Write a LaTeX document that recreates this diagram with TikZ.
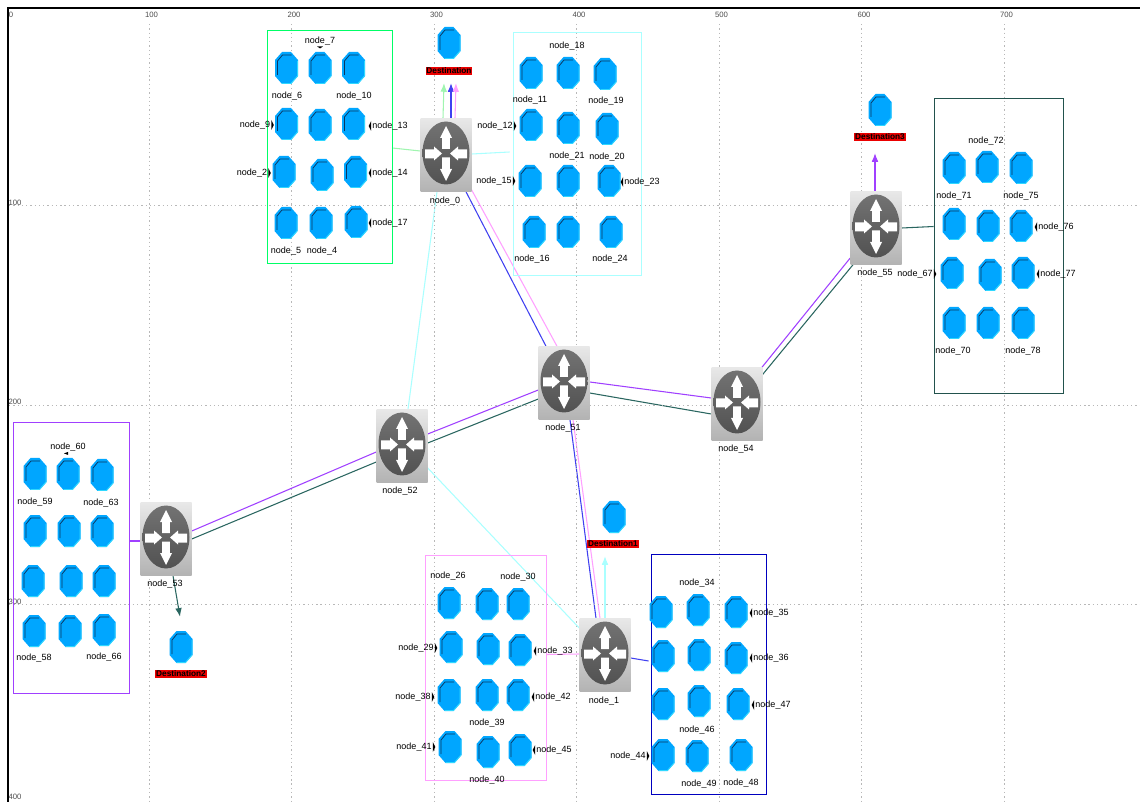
\documentclass[tikz,border=0pt]{standalone}
\usepackage{fontspec}
\setmainfont{Liberation Sans}
\usetikzlibrary{arrows.meta}
\usetikzlibrary{backgrounds}

\definecolor{hostblue}{HTML}{00A6FF}
\definecolor{hostedge}{HTML}{2FD8FF}
\definecolor{hostdark}{HTML}{0B3560}
\definecolor{lkgreen}{HTML}{A0F5B0}
\definecolor{lkcyan}{HTML}{AAFFFF}
\definecolor{lkpink}{HTML}{FFA0FF}
\definecolor{lkblue}{HTML}{4040F0}
\definecolor{lkpurple}{HTML}{A040FF}
\definecolor{lkdark}{HTML}{2A6660}

\tikzset{
    router/.style={rectangle, minimum width=38.25pt, minimum height=54.75pt, inner sep=0pt,
        top color=black!9, bottom color=black!30,
        path picture={
            \begin{scope}[shift={(path picture bounding box.center)}]
                \shade[top color=black!55, bottom color=black!68] (0,-2) ellipse [x radius=23.5, y radius=31.5];
                \fill[white] (0,-29) -- (6,-17) -- (3.8,-17) -- (3.8,-6) -- (-3.8,-6) -- (-3.8,-17) -- (-6,-17) -- cycle;
                \fill[white] (0,26) -- (6,14) -- (3.8,14) -- (3.8,2.5) -- (-3.8,2.5) -- (-3.8,14) -- (-6,14) -- cycle;
                \fill[white] (-4,-1.5) -- (-12,-8.5) -- (-12,-5.5) -- (-21,-5.5) -- (-21,3.5) -- (-12,3.5) -- (-12,5.5) -- cycle;
                \fill[white] (4,-1.5) -- (12,-8.5) -- (12,-5.5) -- (21,-5.5) -- (21,3.5) -- (12,3.5) -- (12,5.5) -- cycle;
            \end{scope}}},
    host/.style={rectangle, minimum width=17.25pt, minimum height=24pt, inner sep=0pt,
        path picture={
            \begin{scope}[shift={(path picture bounding box.center)}]
                \fill[hostblue] (-4.5,-16) -- (4.5,-16) -- (11.5,-8) -- (11.5,8) -- (4.5,16) -- (-4.5,16) -- (-11.5,8) -- (-11.5,-8) -- cycle;
                \draw[hostedge, line width=0.7pt] (11,-7) -- (11,8) -- (4.5,15.5) -- (-4.5,15.5);
                \draw[hostdark, line width=0.55pt] (-9,7) -- (-9,-7) -- (-4,-13) -- (5,-13);
            \end{scope}}},
    hostbox/.style={rectangle, draw=#1, line width=0.65pt, inner sep=0pt},
    lbl/.style={inner sep=0pt, text=black, font=\fontsize{6.75}{8}\selectfont},
    destlbl/.style={inner sep=0.6pt, fill=red!92!black, text=black, font=\bfseries\fontsize{6.2}{7}\selectfont},
    axlbl/.style={inner sep=0pt, text=black!70, font=\fontsize{5.8}{7}\selectfont},
    griddot/.style={black!28, line width=0.6pt, dash pattern=on 1pt off 2.2pt},
    lk/.style={#1, line width=0.8pt},
    lkarrow/.style={#1, line width=0.8pt, -{Latex[length=6.5pt, width=5pt]}},
}

\begin{document}
\begin{tikzpicture}[x=0.75pt, y=-0.75pt]
    \useasboundingbox (0,0) rectangle (1140,802);

    % rahmen und raster
    \foreach \k/\t in {1/100, 2/200, 3/300, 4/400, 5/500, 6/600, 7/700}{
        \draw[griddot] ({6.5+142.5*\k}, 24) -- ({6.5+142.5*\k}, 802);
        \node[axlbl] (axx\t) at ({9+142.5*\k}, 15) {\t};
    };
    \foreach \k/\t in {1/100, 2/200, 3/300}{
        \draw[griddot] (9, {6+199.5*\k}) -- (1140, {6+199.5*\k});
        \node[axlbl] (axy\t) at (15, {3+199.5*\k}) {\t};
    };
    \node[axlbl] (axx0) at (11, 15) {0};
    \node[axlbl] (axy400) at (15, 797) {400};
    \draw[black, line width=1.9pt] (8, 802) -- (8, 8) -- (1140, 8);

    % gruppen
    \node[hostbox=green!60!cyan, minimum width=93.75pt, minimum height=174.75pt] (box_a) at (329.5, 146.5) {};
    \node[hostbox=lkcyan, minimum width=96pt, minimum height=182.25pt] (box_b) at (577, 153.5) {};
    \node[hostbox=lkpurple, minimum width=87pt, minimum height=203.25pt] (box_d) at (71, 557.5) {};
    \node[hostbox=lkpink, minimum width=90.75pt, minimum height=168.75pt] (box_e) at (485.5, 667.5) {};
    \node[hostbox=blue!75!black, minimum width=86.25pt, minimum height=180pt] (box_f) at (708.5, 674) {};
    \node[hostbox=lkdark!80!black, minimum width=96.75pt, minimum height=221.25pt] (box_g) at (998.5, 245.5) {};

    % router
    \foreach \n/\x/\y in {0/446/155, 51/564/383, 52/402/446, 53/166/539, 54/737/404, 55/876/228, 1/605/655}{
        \node[router] (node_\n) at (\x, \y) {};
    };
    \foreach \n/\x/\y in {0/445/201, 51/563/428, 52/400/491, 53/165/584, 54/736/449.5, 55/875/273, 1/604/701}{
        \node[lbl] (lr_\n) at (\x, \y) {node\_\n};
    };

    % hosts
    \foreach \x/\y [count=\i] in {
        286.5/68, 320/68, 353.5/68, 286.5/124, 320/125, 353.5/124,
        284/172, 322/175, 355.5/172, 286/223, 321/223, 356/222,
        531/73, 568/73, 605/74, 531/125, 568/128, 607/129,
        530/181, 568/181, 609/181, 534/232, 568/232, 611/232,
        35/474, 68/474, 102/475, 35/531, 69/531, 102/531,
        33/581, 71/581, 104/581, 34/631, 70/631, 104/630,
        449/603, 487/604, 518/604, 451/647, 488/649, 520/650,
        449/695, 487/695, 518/695, 450/747, 488/752, 520/750,
        661/612, 698/610, 736/612, 663/656, 699/655, 736/658,
        663/704, 699/701, 738/704, 663/755, 697/756, 741/755,
        954/168, 987/167, 1021/168, 954/224, 988/226, 1021/226,
        952/273, 990/275, 1023/273, 954/323, 988/323, 1023/323}{
        \node[host] (h\i) at (\x, \y) {};
    };

    % beschriftung der hosts
    \foreach \n/\x/\y in {
        7/320/41, 6/287/96, 10/354/96, 9/255/125, 13/390/126, 2/252/173, 14/390/173,
        17/390/223, 5/286/251, 4/322/251,
        18/567/46, 11/530/100, 19/606/101, 12/495/126, 21/567/156, 20/607/157,
        15/494/181, 23/642/182, 16/532/259, 24/610/259,
        60/68/447, 59/35/502, 63/101/503, 58/34/658, 66/104/657,
        26/448/576, 30/518/577, 29/416/648, 33/555/651, 38/413/697, 42/553/697,
        39/487/723, 41/414/747, 45/554/750, 40/487/780,
        34/697/583, 35/771/613, 36/771/658, 47/773/705, 46/697/730, 44/628/756,
        49/699/784, 48/741/783,
        72/986/141, 71/954/196, 75/1021/196, 76/1056/227, 67/915/274, 77/1058/274,
        70/953/351, 78/1023/351}{
        \node[lbl] (lb_\n) at (\x, \y) {node\_\n};
    };
    \foreach \n in {9, 2, 12, 15, 29, 38, 41, 44, 67}{
        \fill[black] (lb_\n.east) ++(1,-5) -- ++(2.5,5) -- ++(-2.5,5) -- cycle;
    };
    \foreach \n in {13, 14, 17, 23, 33, 42, 45, 35, 36, 47, 76, 77}{
        \fill[black] (lb_\n.west) ++(-1,-5) -- ++(-2.5,5) -- ++(2.5,5) -- cycle;
    };
    \fill[black] (lb_7.south) ++(-3,1) -- ++(6,0) -- ++(-3,2) -- cycle;
    \fill[black] (lb_60.south) ++(-4,2) -- ++(4,-1.5) -- ++(0,3) -- cycle;

    % ziele
    \node[host] (dest0) at (449, 43) {};
    \node[destlbl] (ld0) at (449, 71) {Destination};
    \node[host] (dest1) at (614, 517) {};
    \node[destlbl] (ld1) at (613, 544) {Destination1};
    \node[host] (dest2) at (181, 647) {};
    \node[destlbl] (ld2) at (181, 674) {Destination2};
    \node[host] (dest3) at (880, 110) {};
    \node[destlbl] (ld3) at (880, 137) {Destination3};

    % verbindungen
    \begin{scope}[on background layer]
        \draw[lk=lkgreen] ([shift={(0,1.5)}]box_a.east) -- ([shift={(0,-4)}]node_0.west);
        \draw[lk=lkcyan] ([shift={(0,-1)}]node_0.east) -- ([shift={(-3,-1.5)}]box_b.west);
        \draw[lkarrow=lkgreen] ([shift={(-3,0)}]node_0.north) -- ([shift={(-5,8)}]ld0.south);
        \draw[lkarrow=lkblue] ([shift={(5,0)}]node_0.north) -- ([shift={(2,8)}]ld0.south);
        \draw[lkarrow=lkpink] ([shift={(9,0)}]node_0.north) -- ([shift={(7,8)}]ld0.south);
        \draw[lk=lkcyan] ([shift={(-9,0)}]node_0.south) -- ([shift={(6,0)}]node_52.north);
        \draw[lk=lkblue] ([shift={(20,0)}]node_0.south) -- ([shift={(-18,0)}]node_51.north);
        \draw[lk=lkpink] ([shift={(25,-3)}]node_0.south) -- ([shift={(-7,0)}]node_51.north);

        \draw[lk=lkpurple] ([shift={(0,7)}]node_51.west) -- ([shift={(0,-12)}]node_52.east);
        \draw[lk=lkdark] ([shift={(0,16)}]node_51.west) -- ([shift={(0,-3)}]node_52.east);
        \draw[lk=lkpurple] ([shift={(0,6)}]node_52.west) -- ([shift={(0,-8)}]node_53.east);
        \draw[lk=lkdark] ([shift={(0,16)}]node_52.west) -- ([shift={(0,0)}]node_53.east);
        \draw[lk=lkpurple] ([shift={(1,-16.5)}]box_d.east) -- ([shift={(0,2)}]node_53.west);
        \draw[lkarrow=lkdark] ([shift={(7,0)}]node_53.south) -- ([shift={(-1,-14)}]dest2.north);

        \draw[lk=lkpurple] ([shift={(0,-1)}]node_51.east) -- ([shift={(0,-6)}]node_54.west);
        \draw[lk=lkdark] ([shift={(0,10)}]node_51.east) -- ([shift={(0,10)}]node_54.west);
        \draw[lk=lkpurple] ([shift={(25,0)}]node_54.north) -- ([shift={(0,30)}]node_55.west);
        \draw[lk=lkdark] ([shift={(25,8)}]node_54.north) -- ([shift={(-23,0)}]node_55.south);
        \draw[lk=lkdark] (node_55.east) -- ([shift={(0,-19)}]box_g.west);
        \draw[lkarrow=lkpurple] ([shift={(-1,0)}]node_55.north) -- ([shift={(-5,12)}]ld3.south);

        \draw[lk=lkblue] ([shift={(6,0)}]node_51.south) -- ([shift={(-9,0)}]node_1.north);
        \draw[lk=lkpink] ([shift={(9,0)}]node_51.south) -- ([shift={(-5,0)}]node_1.north);
        \draw[lkarrow=lkcyan] (node_1.north) -- ([shift={(-8,8)}]ld1.south);
        \draw[lk=lkcyan] ([shift={(0,22)}]node_52.east) -- ([shift={(0,-27)}]node_1.west);
        \draw[lk=lkpink] ([shift={(0,-13)}]box_e.east) -- ([shift={(0,-1)}]node_1.west);
        \draw[lk=lkblue] ([shift={(0,3)}]node_1.east) -- ([shift={(-2,-13)}]box_f.west);
    \end{scope}
\end{tikzpicture}
\end{document}
